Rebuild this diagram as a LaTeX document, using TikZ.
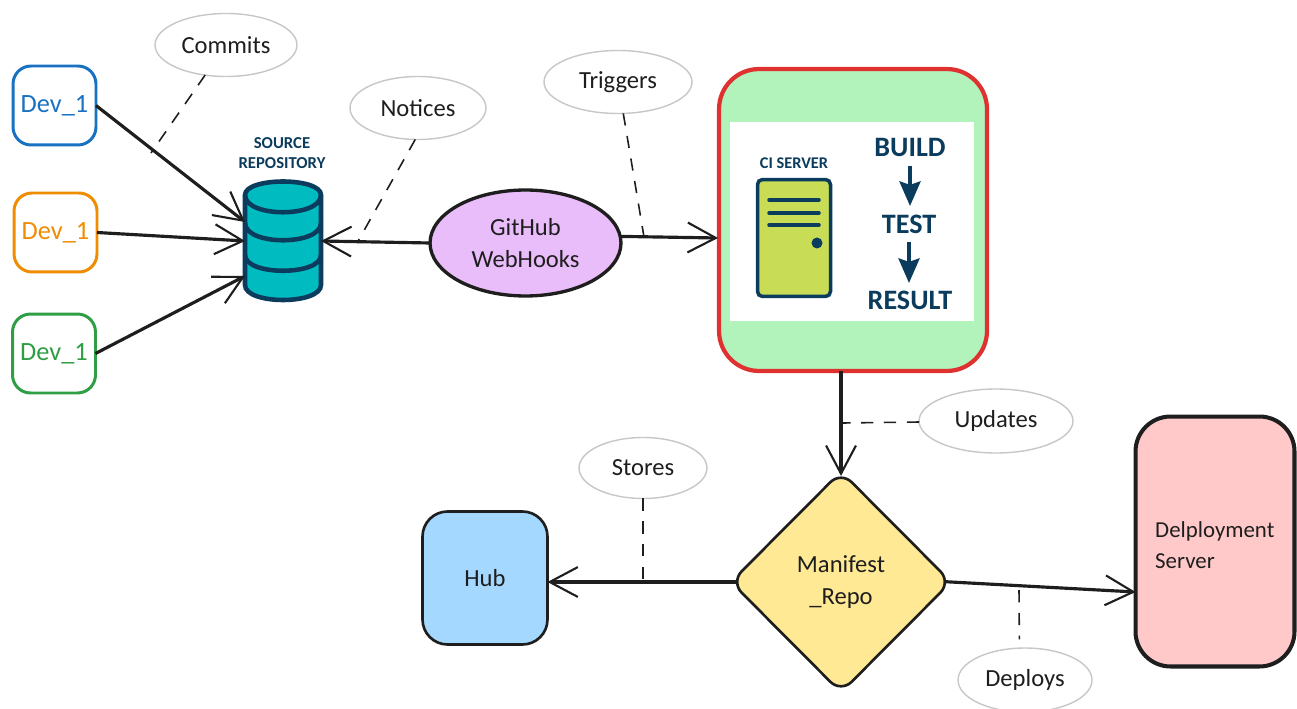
\documentclass[tikz,border=0pt]{standalone}
\usepackage{fontspec}
\setmainfont{Carlito}
\usetikzlibrary{arrows.meta,shapes.geometric}
\definecolor{inkblack}{HTML}{1E1E1E}
\definecolor{navy}{HTML}{0B3C5D}
\definecolor{teal1}{HTML}{00BCC0}
\definecolor{lime1}{HTML}{C8DC55}
\definecolor{devblue}{HTML}{1971C2}
\definecolor{devorange}{HTML}{F08C00}
\definecolor{devgreen}{HTML}{2F9E44}
\begin{document}
\begin{tikzpicture}
            [x=0.02cm,y=-0.02cm,
            hand/.style ={font=\fontsize{14}{18}\selectfont,text=inkblack},
            dev/.style ={draw=#1,text=#1,fill=white,line width=1.7pt,rounded corners=0.36cm,minimum width=1.66cm,minimum height=1.58cm,outer sep=0pt,font=\fontsize{15}{18}\selectfont},
            note/.style ={hand,draw=black!22,ellipse,line width=0.8pt,inner sep=0pt,outer sep=0pt,fill=white},
            block/.style ={hand,draw=inkblack,line width=1.9pt,outer sep=0pt},
            label/.style ={font=\bfseries\fontsize{#1}{#1}\selectfont,text=navy,inner sep=0pt},
            link/.style ={-{Straight Barb[length=16pt,width=17pt,line width=1.2pt]},line width=1.8pt,draw=inkblack},
            tag/.style ={dash pattern=on 7pt off 6pt,line width=0.9pt,draw=inkblack},
            flow/.style ={-{Stealth[length=14pt,width=12pt,inset=2pt]},line width=2pt,draw=navy},
            drum/.style ={draw=navy,line width=2.6pt}]
            \useasboundingbox (0,0) rectangle (1297,709);
            \node[dev=devblue] (dev1) at (54.5,105.5){Dev\_1};
            \node[dev=devorange] (dev2) at (55.5,232.5){Dev\_1};
            \node[dev=devgreen] (dev3) at (54,353.5){Dev\_1};
            \node[minimum width=1.52cm,minimum height=2.36cm,inner sep=0pt,outer sep=0pt] (repo) at (283,241){};
            \draw[drum,fill=teal1] (245,195) .. controls (245,177) and (321,177) .. (321,195) -- (321,285) .. controls (321,305) and (245,305) .. (245,285) -- cycle;
            \draw[drum] (245,195) .. controls (245,218) and (321,218) .. (321,195);
            \draw[drum] (245,223) .. controls (245,246) and (321,246) .. (321,223);
            \draw[drum] (245,255) .. controls (245,276) and (321,276) .. (321,255);
            \node[label=9.5,align=center] (repotext) at (282,153){SOURCE\\[2pt]REPOSITORY};
            \node[block,ellipse,fill={rgb,255:red,233;green,188;blue,250},minimum width=3.82cm,minimum height=2.12cm,inner sep=0pt,align=center] (hook) at (525.5,243){GitHub\\WebHooks};
            \node[draw={rgb,255:red,224;green,49;blue,49},fill={rgb,255:red,178;green,242;blue,187},line width=2.4pt,rounded corners=0.8cm,minimum width=5.36cm,minimum height=6.04cm,outer sep=0pt] (ci) at (853,220){};
            \node[fill=white,minimum width=4.88cm,minimum height=3.98cm,inner sep=0pt] (panel) at (852,221.5){};
            \node[label=9.3] (citext) at (794,163){CI SERVER};
            \node[draw=navy,fill=lime1,line width=2pt,rounded corners=0.1cm,minimum width=1.46cm,minimum height=2.34cm,outer sep=0pt] (server) at (794,238){};
            \foreach \liney in {200,213,225}
                \draw[navy,line width=2pt,line cap=round] (769,\liney) -- (819,\liney);
            \fill[navy] (817,243) circle (0.11cm);
            \node[label=16] (build) at (910,147){BUILD};
            \node[label=16] (test) at (909,224){TEST};
            \node[label=16] (result) at (910,300){RESULT};
            \draw[flow] (build) ++(0,19) -- ++(0,40);
            \draw[flow] (test) ++(0,18) -- ++(0,41);
            \node[block,diamond,fill={rgb,255:red,255;green,233;blue,148},rounded corners=0.3cm,minimum width=4.4cm,minimum height=4.42cm,inner sep=0pt,align=center,line width=1.5pt] (manifest) at (841,582){Manifest\\\_Repo};
            \node[block,fill={rgb,255:red,165;green,216;blue,255},rounded corners=0.5cm,minimum width=2.5cm,minimum height=2.66cm,line width=1.5pt] (hub) at (485,578){Hub};
            \node[block,fill={rgb,255:red,255;green,201;blue,201},rounded corners=0.7cm,minimum width=3.18cm,minimum height=5cm,line width=2.3pt] (deploy) at (1215,541.5){};
            \node[hand,align=left,anchor=west,font=\fontsize{13}{18}\selectfont] (deploytext) at (1149,545){Delployment\\Server};
            \node[note,minimum width=2.84cm,minimum height=1.26cm] (commits) at (226,45){Commits};
            \node[note,minimum width=2.72cm,minimum height=1.26cm] (notices) at (418,108){Notices};
            \node[note,minimum width=2.96cm,minimum height=1.26cm] (triggers) at (618,82){Triggers};
            \node[note,minimum width=3.08cm,minimum height=1.28cm] (updates) at (996,421){Updates};
            \node[note,minimum width=2.56cm,minimum height=1.22cm] (stores) at (643,468){Stores};
            \node[note,minimum width=2.68cm,minimum height=1.28cm] (deploys) at (1025,680){Deploys};
            \coordinate (repoa) at (245,222);
            \coordinate (repob) at (245,241);
            \coordinate (repoc) at (245,276);
            \coordinate (ciin) at (718,238);
            \coordinate (commitsend) at (151,153);
            \coordinate (noticesend) at (357,243);
            \coordinate (triggersend) at (644,237);
            \coordinate (updatesend) at (843,423);
            \coordinate (storesend) at (643,582);
            \coordinate (deploysend) at (1019,590);
            \draw[link] (dev1.east) to (repoa);
            \draw[link] (dev2.east) to (repob);
            \draw[link] (dev3.east) to (repoc);
            \draw[link] (hook.west) to (repo.east);
            \draw[link] (hook.4) to (ciin);
            \draw[link,shorten >=-2.5pt] (ci.south -| manifest.north) to (manifest.north);
            \draw[link,shorten <=-3.4pt] (manifest.west) to (hub.east |- manifest.west);
            \draw[link,shorten <=-3.4pt] (manifest.east) to (deploy.west |- 0,592);
            \draw[tag] (commits) to (commitsend);
            \draw[tag] (notices.-95) to (noticesend);
            \draw[tag] (triggers) to (triggersend);
            \draw[tag] (updates) to (updatesend);
            \draw[tag] (stores) to (storesend);
            \draw[tag,shorten >=5pt] (deploysend) to (deploys.100);
        \end{tikzpicture}
\end{document}
